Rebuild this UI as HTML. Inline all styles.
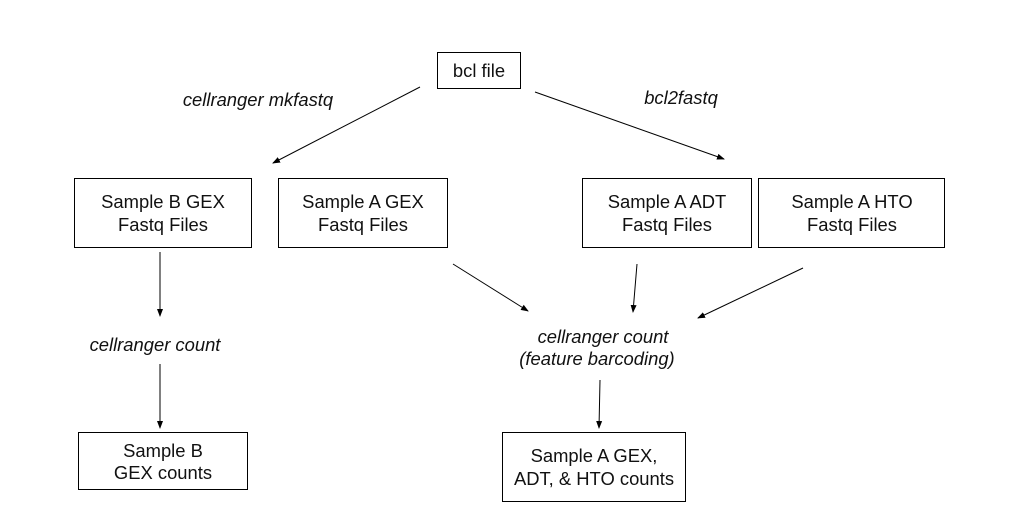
<!DOCTYPE html>
<html><head><meta charset="utf-8"><style>
html,body{margin:0;padding:0;background:#fff;}
svg{display:block;}
text{font-family:"Liberation Sans",Arial,sans-serif;font-size:18.4px;fill:#111;}
.i{font-style:italic;}
</style></head><body>
<svg width="1014" height="521" viewBox="0 0 1014 521" xmlns="http://www.w3.org/2000/svg">
<defs><marker id="a" markerWidth="8" markerHeight="8" refX="7" refY="4" orient="auto" markerUnits="userSpaceOnUse"><path d="M0,1 L8,4 L0,7 z" fill="#000"/></marker></defs>
<g fill="none" stroke="#000" stroke-width="1">
<rect x="437.5" y="52.5" width="83" height="36"/>
<rect x="74.5" y="178.5" width="177" height="69"/>
<rect x="278.5" y="178.5" width="169" height="69"/>
<rect x="582.5" y="178.5" width="169" height="69"/>
<rect x="758.5" y="178.5" width="186" height="69"/>
<rect x="78.5" y="432.5" width="169" height="57"/>
<rect x="502.5" y="432.5" width="183" height="69"/>
<g marker-end="url(#a)">
<line x1="420" y1="87" x2="273" y2="163"/>
<line x1="535" y1="92" x2="724" y2="159"/>
<line x1="160" y1="252" x2="160" y2="316"/>
<line x1="160" y1="364" x2="160" y2="428"/>
<line x1="453" y1="264" x2="528" y2="311"/>
<line x1="637" y1="264" x2="633" y2="312"/>
<line x1="803" y1="268" x2="698" y2="318"/>
<line x1="600" y1="380" x2="599" y2="428"/>
</g></g>
<g text-anchor="middle">
<text x="479" y="77">bcl file</text>
<text x="163" y="208">Sample B GEX</text><text x="163" y="231">Fastq Files</text>
<text x="363" y="208">Sample A GEX</text><text x="363" y="231">Fastq Files</text>
<text x="667" y="208">Sample A ADT</text><text x="667" y="231">Fastq Files</text>
<text x="852" y="208">Sample A HTO</text><text x="852" y="231">Fastq Files</text>
<text x="163" y="457">Sample B</text><text x="163" y="479">GEX counts</text>
<text x="594" y="462">Sample A GEX,</text><text x="594" y="485">ADT, &amp; HTO counts</text>
<text class="i" x="258" y="106">cellranger mkfastq</text>
<text class="i" x="681" y="104">bcl2fastq</text>
<text class="i" x="155" y="351">cellranger count</text>
<text class="i" x="603" y="343">cellranger count</text>
<text class="i" x="597" y="365">(feature barcoding)</text>
</g>
</svg>
</body></html>
